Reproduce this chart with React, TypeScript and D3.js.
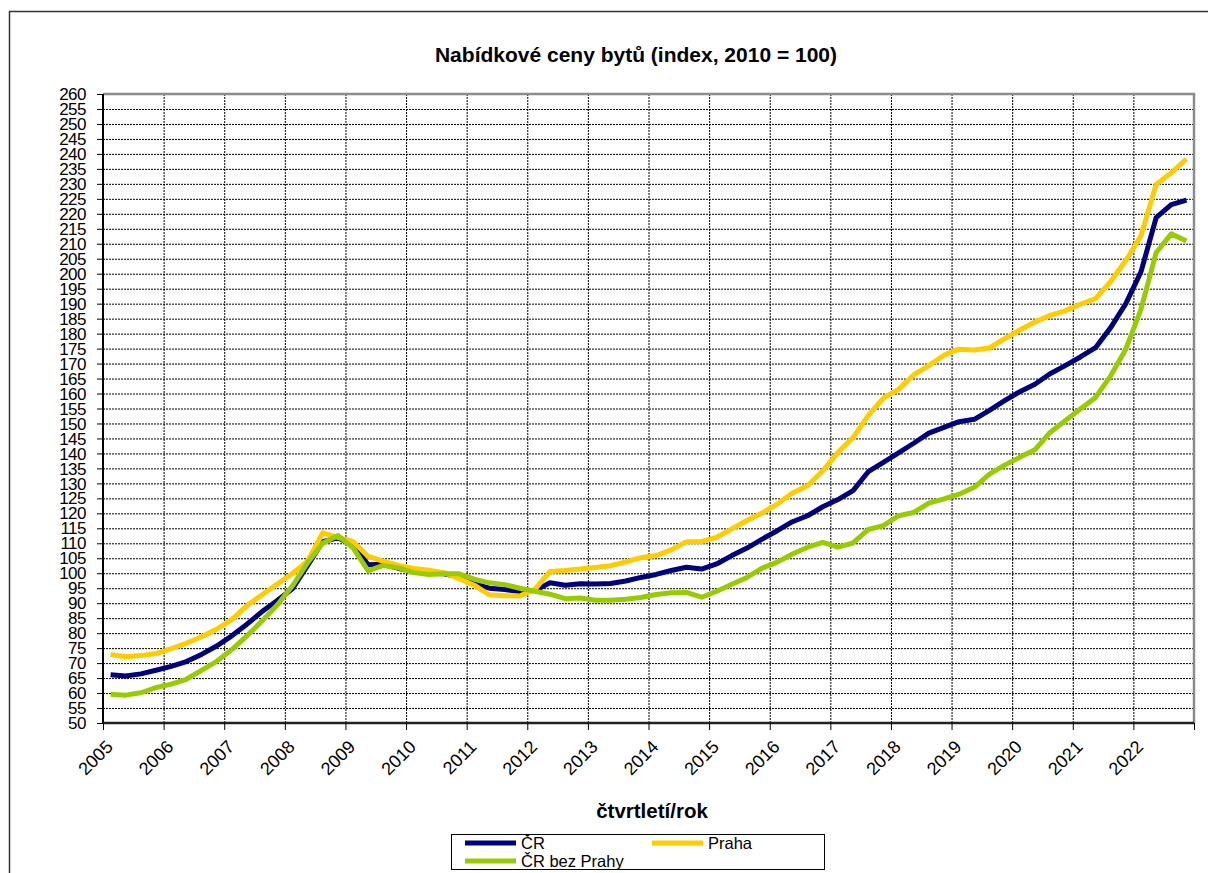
import React, { useEffect, useRef } from "react";
import * as d3 from "d3";

// quarterly data 2005 Q1 .. 2022 Q4
const years = d3.range(2005, 2023);
const quarters = years.flatMap(y => [1, 2, 3, 4].map(q => `${y}Q${q}`));

const cr = [
  66.1, 65.7, 66.4, 67.6, 68.9, 70.5, 72.9, 75.7, 79.1, 83.0, 87.2, 90.9,
  94.8, 102.5, 110.5, 111.8, 109.5, 102.8, 103.0, 101.6, 100.7, 100.0, 99.8, 98.7,
  96.4, 95.0, 94.6, 93.9, 94.2, 96.8, 96.0, 96.5, 96.4, 96.6, 97.4, 98.6,
  99.6, 100.9, 102.0, 101.4, 103.1, 105.9, 108.4, 111.4, 114.2, 117.2, 119.2, 122.2,
  124.6, 127.6, 133.9, 137.0, 140.2, 143.4, 146.8, 148.7, 150.6, 151.4, 154.4, 157.6,
  160.6, 163.1, 166.6, 169.3, 172.2, 175.3, 182.0, 190.0, 200.6, 218.7, 223.1, 224.6
];

const praha = [
  72.9, 72.1, 72.5, 73.2, 74.8, 76.6, 78.8, 81.3, 84.5, 89.2, 92.8, 96.4,
  99.9, 104.0, 113.5, 112.0, 110.6, 105.6, 104.0, 102.6, 101.6, 101.0, 100.2, 98.2,
  96.0, 92.8, 92.5, 92.4, 94.6, 100.6, 100.9, 101.4, 101.9, 102.5, 103.8, 105.2,
  105.9, 107.8, 110.5, 110.6, 112.0, 114.8, 117.6, 120.1, 123.1, 126.8, 129.2, 134.2,
  140.3, 145.3, 152.6, 158.5, 161.4, 166.2, 169.3, 172.8, 174.8, 174.5, 175.2, 178.3,
  181.2, 183.9, 186.1, 187.6, 189.8, 191.7, 197.4, 204.4, 212.6, 229.8, 233.7, 238.3
];

const bezPrahy = [
  59.6, 59.3, 60.1, 61.8, 63.0, 64.6, 67.6, 70.6, 74.5, 79.1, 84.1, 89.4,
  95.8, 103.5, 110.0, 112.6, 108.5, 100.8, 102.6, 101.8, 100.2, 99.6, 99.8, 99.8,
  98.0, 96.8, 96.2, 95.0, 94.0, 93.0, 91.5, 91.7, 91.0, 91.0, 91.3, 91.9,
  92.9, 93.5, 93.6, 92.0, 94.0, 96.3, 98.6, 101.7, 103.7, 106.4, 108.7, 110.3,
  108.7, 110.1, 114.6, 115.9, 119.2, 120.3, 123.4, 124.8, 126.4, 128.7, 133.1, 136.1,
  138.7, 141.2, 147.0, 150.9, 154.8, 158.7, 165.9, 174.8, 188.1, 207.0, 213.3, 210.9
];

const yTicks = d3.range(50, 261, 5);

const series = [
  { name: "ČR", values: cr, color: "#000080" },
  { name: "Praha", values: praha, color: "#FFCC00" },
  { name: "ČR bez Prahy", values: bezPrahy, color: "#99CC00" }
];

const FONT = "Arial, 'Liberation Sans', Helvetica, sans-serif";

const App = () => {
  const ref = useRef<SVGSVGElement>(null);

  useEffect(() => {
    const svg = d3.select(ref.current);
    svg.selectAll("*").remove();

    const left = 103, right = 1194, top = 94, bottom = 723;

    const x = d3.scaleBand().domain(quarters).range([left, right]);
    const y = d3.scaleLinear().domain([50, 260]).range([bottom, top]);

    // outer frame
    svg.append("rect")
      .attr("x", 9.5).attr("y", 11.5)
      .attr("width", 1230).attr("height", 900)
      .attr("fill", "none").attr("stroke", "#333").attr("stroke-width", 1.5);

    svg.append("text")
      .attr("x", 636).attr("y", 62)
      .attr("text-anchor", "middle")
      .style("font", `bold 21px ${FONT}`)
      .text("Nabídkové ceny bytů (index, 2010 = 100)");

    // grid
    const grid = svg.append("g");
    grid.selectAll("line.h")
      .data(yTicks.filter(t => t > 50 && t < 260))
      .join("line")
      .attr("x1", left).attr("x2", right)
      .attr("y1", d => y(d) + 0.5).attr("y2", d => y(d) + 0.5)
      .attr("stroke", "#000").attr("stroke-width", 1)
      .attr("stroke-dasharray", "2,1");
    const yearStarts = years.slice(1).map(yr => `${yr}Q1`);
    grid.selectAll("line.v")
      .data(yearStarts)
      .join("line")
      .attr("x1", d => x(d)! + 0.5).attr("x2", d => x(d)! + 0.5)
      .attr("y1", top).attr("y2", bottom)
      .attr("stroke", "#000").attr("stroke-width", 1)
      .attr("stroke-dasharray", "2,1");

    // top/right border
    svg.append("path")
      .attr("d", `M${left},${top}H${right}V${bottom}`)
      .attr("fill", "none").attr("stroke", "#8c8c8c").attr("stroke-width", 2.5);

    // y axis
    const yAxis = svg.append("g");
    yAxis.append("line")
      .attr("x1", left).attr("x2", left).attr("y1", top).attr("y2", bottom + 1)
      .attr("stroke", "#000").attr("stroke-width", 2);
    yAxis.selectAll("line.t")
      .data(yTicks)
      .join("line")
      .attr("x1", left - 6).attr("x2", left)
      .attr("y1", d => y(d) + 0.5).attr("y2", d => y(d) + 0.5)
      .attr("stroke", "#000").attr("stroke-width", 1);
    yAxis.selectAll("text")
      .data(yTicks)
      .join("text")
      .attr("x", 86).attr("y", d => y(d))
      .attr("dy", "0.36em")
      .attr("text-anchor", "end")
      .style("font", `17px ${FONT}`)
      .style("letter-spacing", "-0.5px")
      .text(d => d);

    // x axis
    const xAxis = svg.append("g");
    xAxis.append("line")
      .attr("x1", left).attr("x2", right).attr("y1", bottom).attr("y2", bottom)
      .attr("stroke", "#222").attr("stroke-width", 2.5);
    const tickPos = years.map(yr => x(`${yr}Q1`)!).concat([right]);
    xAxis.selectAll("line.t")
      .data(tickPos)
      .join("line")
      .attr("x1", d => d + 0.5).attr("x2", d => d + 0.5)
      .attr("y1", bottom).attr("y2", bottom + 7)
      .attr("stroke", "#000").attr("stroke-width", 1);
    xAxis.selectAll("text")
      .data(years)
      .join("text")
      .attr("transform", d => `translate(${x(`${d}Q1`)! + 11},${bottom + 25}) rotate(-45)`)
      .attr("text-anchor", "end")
      .style("font", `18px ${FONT}`)
      .text(d => d);

    svg.append("text")
      .attr("x", 652).attr("y", 818)
      .attr("text-anchor", "middle")
      .style("font", `bold 20.5px ${FONT}`)
      .text("čtvrtletí/rok");

    // lines
    const line = d3.line<number>()
      .x((_, i) => x(quarters[i])! + x.bandwidth() / 2)
      .y(d => y(d));
    svg.append("g")
      .selectAll("path")
      .data([series[0], series[1], series[2]])
      .join("path")
      .attr("d", d => line(d.values))
      .attr("fill", "none")
      .attr("stroke", d => d.color)
      .attr("stroke-width", 5)
      .attr("stroke-linejoin", "round");

    // legend
    const lg = svg.append("g");
    lg.append("rect")
      .attr("x", 451.5).attr("y", 834.5).attr("width", 373).attr("height", 35)
      .attr("fill", "#fff").attr("stroke", "#000").attr("stroke-width", 1);
    const items = [
      { s: series[0], lx: 465, ly: 843 },
      { s: series[1], lx: 652, ly: 843 },
      { s: series[2], lx: 465, ly: 861 }
    ];
    items.forEach(({ s, lx, ly }) => {
      lg.append("line")
        .attr("x1", lx).attr("x2", lx + 51).attr("y1", ly).attr("y2", ly)
        .attr("stroke", s.color).attr("stroke-width", 5);
      lg.append("text")
        .attr("x", lx + 56).attr("y", ly)
        .attr("dy", "0.36em")
        .style("font", `16.5px ${FONT}`)
        .text(s.name);
    });
  }, []);

  return (
    <svg
      ref={ref}
      width={1208}
      height={873}
      style={{ position: "absolute", left: 0, top: 0, background: "#fff" }}
    />
  );
};

export default App;
